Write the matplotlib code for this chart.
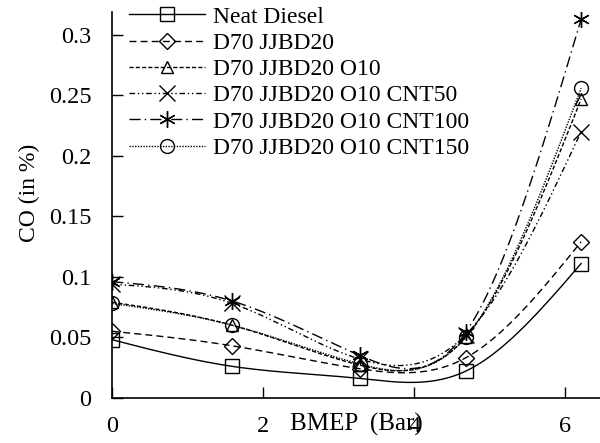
import numpy as np
import matplotlib
matplotlib.use("Agg")
import matplotlib.pyplot as plt

plt.rcParams['font.family'] = ['Liberation Serif', 'DejaVu Serif']

bmep = [0.0, 1.59, 3.28, 4.68, 6.21]
series_labels = ["Neat Diesel", "D70 JJBD20", "D70 JJBD20 O10",
                 "D70 JJBD20 O10 CNT50", "D70 JJBD20 O10 CNT100",
                 "D70 JJBD20 O10 CNT150"]
neat_diesel = [0.048, 0.026, 0.016, 0.022, 0.111]
d70_jjbd20 = [0.055, 0.043, 0.024, 0.033, 0.129]
d70_o10 = [0.079, 0.060, 0.027, 0.050, 0.247]
d70_cnt50 = [0.094, 0.078, 0.032, 0.052, 0.220]
d70_cnt100 = [0.096, 0.080, 0.035, 0.054, 0.313]
d70_cnt150 = [0.078, 0.060, 0.028, 0.050, 0.256]
xticks = [0, 2, 4, 6]
yticks = [0, 0.05, 0.1, 0.15, 0.2, 0.25, 0.3]
ytick_labels = ["0", "0.05", "0.1", "0.15", "0.2", "0.25", "0.3"]


def natural_spline(x, y, n=300):
    x = np.asarray(x, float)
    y = np.asarray(y, float)
    m = len(x)
    h = np.diff(x)
    A = np.zeros((m, m))
    b = np.zeros(m)
    A[0, 0] = 1
    A[-1, -1] = 1
    for i in range(1, m - 1):
        A[i, i - 1] = h[i - 1]
        A[i, i] = 2 * (h[i - 1] + h[i])
        A[i, i + 1] = h[i]
        b[i] = 3 * ((y[i + 1] - y[i]) / h[i] - (y[i] - y[i - 1]) / h[i - 1])
    c = np.linalg.solve(A, b)
    xs = np.linspace(x[0], x[-1], n)
    ys = np.empty_like(xs)
    for k, xv in enumerate(xs):
        i = min(np.searchsorted(x, xv, side='right') - 1, m - 2)
        dx = xv - x[i]
        bi = (y[i + 1] - y[i]) / h[i] - h[i] * (2 * c[i] + c[i + 1]) / 3
        di = (c[i + 1] - c[i]) / (3 * h[i])
        ys[k] = y[i] + bi * dx + c[i] * dx ** 2 + di * dx ** 3
    return xs, ys


fig = plt.figure(figsize=(6.0, 4.43), dpi=100)
ax = fig.add_axes([0.187, 0.102, 0.813, 0.871])

styles = [
    dict(marker='s', dashes=None),
    dict(marker='D', dashes=(5, 3)),
    dict(marker='^', dashes=(3, 1.5)),
    dict(marker='x', dashes=(4, 2, 1, 2, 1, 2)),
    dict(marker=(6, 2, 0), dashes=(8, 3, 1, 3)),
    dict(marker='o', dashes=(1, 1)),
]
data = [neat_diesel, d70_jjbd20, d70_o10, d70_cnt50, d70_cnt100, d70_cnt150]
msizes = [10, 8, 9, 11, 12, 10]

for lab, vals, st, ms in zip(series_labels, data, styles, msizes):
    xs, ys = natural_spline(bmep, vals)
    line, = ax.plot(xs, ys, color='black', lw=1.0, linestyle='-')
    if st['dashes'] is not None:
        line.set_dashes(st['dashes'])
    ax.plot(bmep, vals, linestyle='none', marker=st['marker'], ms=ms,
            mfc='none', mec='black', mew=1.0)
    proxy, = ax.plot([], [], color='black', lw=1.0, marker=st['marker'],
                     ms=ms, mfc='none', mec='black', mew=1.0, label=lab)
    if st['dashes'] is not None:
        proxy.set_dashes(st['dashes'])

ax.set_xlim(0, 6.46)
ax.set_ylim(0, 0.319)
ax.set_xticks(xticks)
ax.set_xticklabels([str(t) for t in xticks])
ax.set_yticks(yticks)
ax.set_yticklabels(ytick_labels)
ax.tick_params(axis='both', direction='in', length=8, width=1.0, labelsize=17.5)
ax.tick_params(axis='y', pad=15)
ax.tick_params(axis='x', pad=13)
for s in ['top', 'right']:
    ax.spines[s].set_visible(False)
for s in ['left', 'bottom']:
    ax.spines[s].set_linewidth(1.2)

ax.set_ylabel("CO (in %)", fontsize=17, labelpad=4)
ax.yaxis.set_label_coords(-0.148, 0.53)
ax.text(0.5, -0.07, "BMEP  (Bar)", transform=ax.transAxes, fontsize=18,
        ha='center', va='center')

ax.legend(loc='upper left', bbox_to_anchor=(0.035, 1.015), frameon=False,
          fontsize=17, handlelength=3.2, handletextpad=0.35, borderpad=0,
          borderaxespad=0, labelspacing=0.2)

fig.savefig("out.png", dpi=100)
